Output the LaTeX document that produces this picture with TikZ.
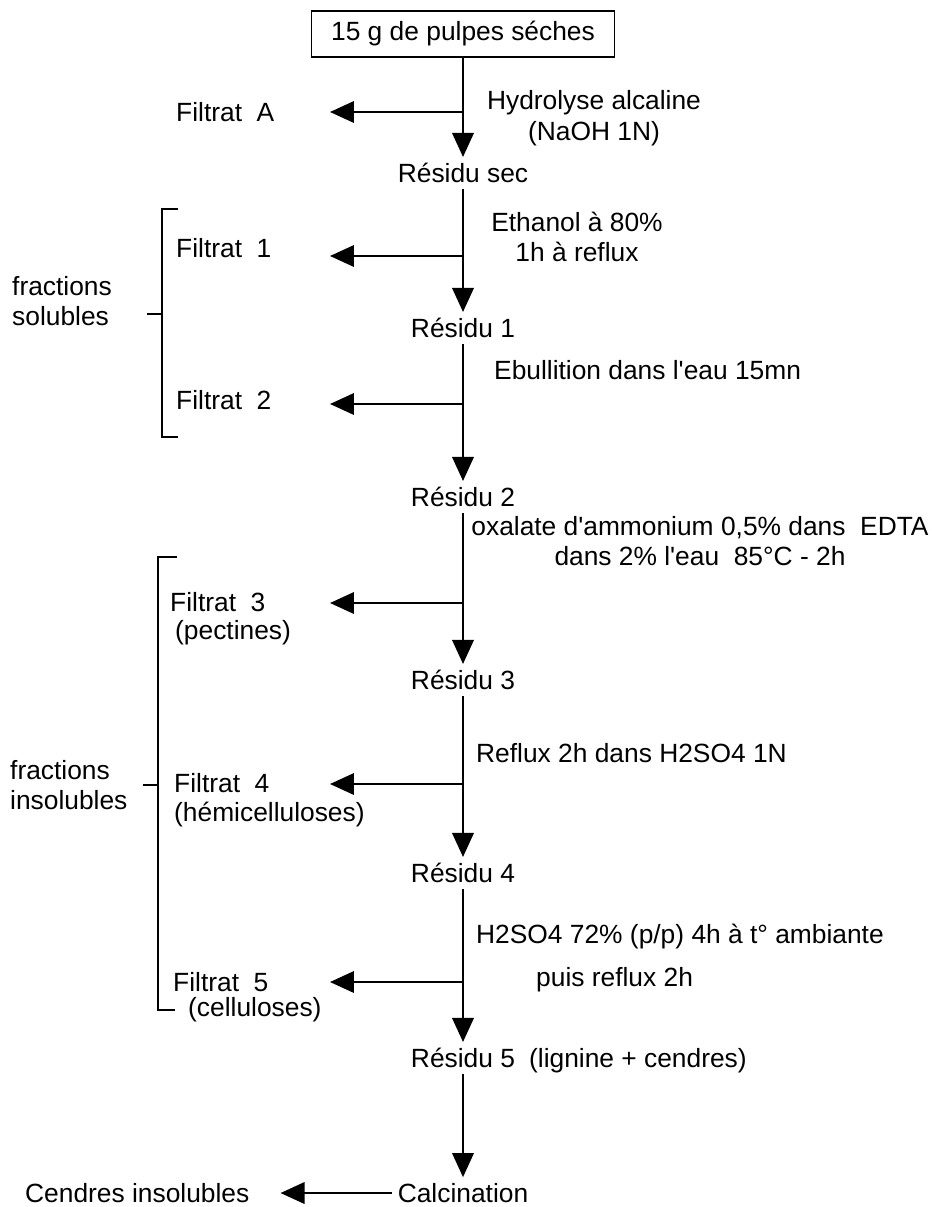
\documentclass[tikz,border=0pt]{standalone}
\usepackage{fontspec}
\setmainfont{Liberation Sans}
\usetikzlibrary{arrows.meta, positioning}
\tikzset{
  lbl/.style={font=\fontsize{15}{17.5}\selectfont},
  srcbox/.style={lbl, draw, line width=1pt, minimum width=6.06cm, minimum height=0.92cm},
  flow/.style={-{Triangle[length=0.48cm, width=0.43cm]}, line width=1.1pt},
  brkt/.style={line width=1pt},
}

\begin{document}
\begin{tikzpicture}[x=0.02cm, y=-0.02cm]
  \useasboundingbox (0,0) rectangle (932,1207);

  % main column
  \node[srcbox] (src) at (463,34) {15 g de pulpes séches};
  \node[lbl] (rsec) at (463,173) {Résidu sec};
  \node[lbl] (r1) at (463,328) {Résidu 1};
  \node[lbl] (r2) at (463,497) {Résidu 2};
  \node[lbl] (r3) at (463,680) {Résidu 3};
  \node[lbl] (r4) at (463,873) {Résidu 4};
  \node[lbl] (r5) at (463,1058) {Résidu 5};
  \node[lbl, base right=1pt of r5] (lign) {(lignine + cendres)};
  \node[lbl] (calc) at (463,1193) {Calcination};

  % treatments
  \node[lbl, align=center] (hydro) at (594,118) {Hydrolyse alcaline\\(NaOH 1N)};
  \node[lbl, align=center] (etha) at (577,237) {Ethanol à 80\%\\1h à reflux};
  \node[lbl, anchor=west] (ebul) at (488,370) {Ebullition dans l\textquotesingle eau 15mn};
  \node[lbl, align=center] (oxal) at (700,541)
    {oxalate d\textquotesingle ammonium 0,5\% dans\ \ EDTA\\dans 2\% l\textquotesingle eau\ \ 85°C - 2h};
  \node[lbl, anchor=west] (refl) at (470,753) {Reflux 2h dans H2SO4 1N};
  \node[lbl, anchor=west] (hsulf) at (470,937) {H2SO4 72\% (p/p) 4h à t° ambiante};
  \node[lbl, anchor=west] (puis) at (530,980) {puis reflux 2h};

  % filtrates
  \node[lbl, anchor=west] (fA) at (170,112) {Filtrat\ \ A};
  \node[lbl, anchor=west] (f1) at (170,248) {Filtrat\ \ 1};
  \node[lbl, anchor=west] (f2) at (170,400) {Filtrat\ \ 2};
  \node[lbl, anchor=west] (f3) at (164,602) {Filtrat\ \ 3};
  \node[lbl, anchor=west] (f3b) at (169,633) {(pectines)};
  \node[lbl, anchor=west] (f4) at (168,783) {Filtrat\ \ 4};
  \node[lbl, anchor=west] (f4b) at (168,815) {(hémicelluloses)};
  \node[lbl, anchor=west] (f5) at (167,982) {Filtrat\ \ 5};
  \node[lbl, anchor=west] (f5b) at (182,1010) {(celluloses)};
  \node[lbl, anchor=west] (cend) at (19,1193) {Cendres insolubles};

  \node[lbl, anchor=west, align=left] (sol) at (6,301) {fractions\\solubles};
  \node[lbl, anchor=west, align=left] (insol) at (4,785) {fractions\\insolubles};

  % branch points and arrow ends
  \coordinate (b0) at (463,112);  \coordinate (tA) at (330,112);
  \coordinate (b1) at (463,256);  \coordinate (t1) at (330,256);
  \coordinate (b2) at (463,404);  \coordinate (t2) at (330,404);
  \coordinate (b3) at (463,603);  \coordinate (t3) at (330,603);
  \coordinate (b4) at (463,784);  \coordinate (t4) at (330,784);
  \coordinate (b5) at (463,982);  \coordinate (t5) at (330,982);

  \draw[flow] (src) -- (rsec);
  \draw[flow] (rsec) -- (r1);
  \draw[flow] (r1) -- (r2);
  \draw[flow] (r2) -- (r3);
  \draw[flow] (r3) -- (r4);
  \draw[flow] (r4) -- (r5);
  \draw[flow] (r5) -- (calc);

  \draw[flow] (b0) -- (tA);
  \draw[flow] (b1) -- (t1);
  \draw[flow] (b2) -- (t2);
  \draw[flow] (b3) -- (t3);
  \draw[flow] (b4) -- (t4);
  \draw[flow] (b5) -- (t5);
  \draw[flow, shorten >=0.5cm] (calc) -- (cend);

  % brackets
  \draw[brkt] (178,209) -- (162,209) -- (162,437) -- (178,437);
  \draw[brkt] (147,314) -- (162,314);
  \draw[brkt] (177,557) -- (158,557) -- (158,1010) -- (175,1010);
  \draw[brkt] (143,785) -- (158,785);

\end{tikzpicture}
\end{document}
